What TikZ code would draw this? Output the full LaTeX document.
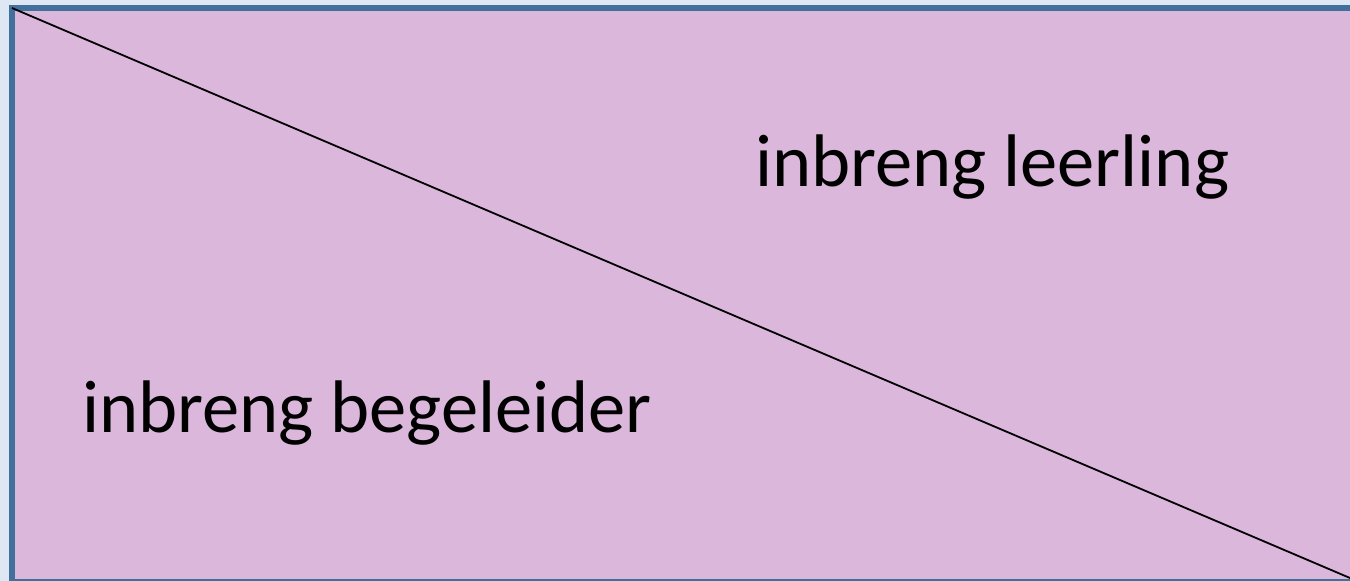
\documentclass[tikz,border=0pt]{standalone}
\usepackage{fontspec}
\setmainfont{Carlito}
\usetikzlibrary{positioning}
\definecolor{pageColor}{RGB}{221,232,244}
\definecolor{frameColor}{RGB}{66,112,156}
\definecolor{fieldColor}{RGB}{219,183,219}
\tikzstyle{diagram} = [x = 1pt, y = -1pt]
\tikzstyle{fieldStyle} = [draw=frameColor, fill=fieldColor, line width=6pt]
\tikzstyle{splitLine} = [color=black, line width=1.8pt]
\tikzstyle{fieldText} = [font=\fontsize{74.5}{89}\selectfont, anchor=base west, inner sep=0pt]

\begin{document}
\begin{tikzpicture}[diagram]
            \fill [pageColor] (0,0) rectangle (1350,581);
            \useasboundingbox (0,0) rectangle (1350,581);
            \filldraw [fieldStyle] (12,8) rectangle (1356,582);
            \coordinate (topLeft) at (12,8);
            \coordinate (bottomRight) at (1350,578);
            \draw [splitLine] (topLeft) -- (bottomRight);
            \node [fieldText] (leerling) at (755,186) {inbreng leerling};
            \node [fieldText] (begeleider) at (82,432) {inbreng begeleider};
          \end{tikzpicture}
\end{document}
